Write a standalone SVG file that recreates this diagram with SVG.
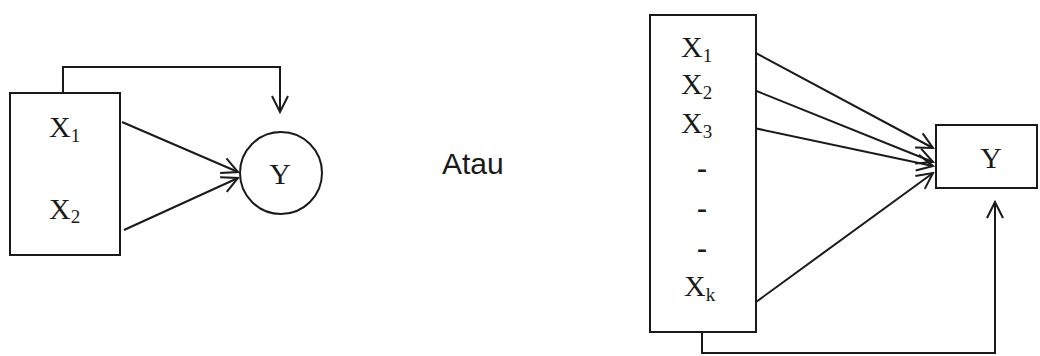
<svg xmlns="http://www.w3.org/2000/svg" width="1040" height="356" viewBox="0 0 1040 356">
  <style>
    .shape { fill: #fff; stroke: #1a1a1a; stroke-width: 2; }
    .wire { fill: none; stroke: #1a1a1a; stroke-width: 2; marker-end: url(#open); }
    .lbl { font-family: "Liberation Serif", "Times New Roman", serif; font-size: 30px; fill: #1a1a1a; }
    .sub { font-size: 19px; }
    .dash { font-family: "Liberation Serif", "Times New Roman", serif; font-size: 30px; font-weight: bold; fill: #1a1a1a; }
    .word { font-family: "Liberation Sans", Arial, sans-serif; font-size: 30px; fill: #1a1a1a; }
  </style>
  <defs>
    <marker id="open" viewBox="0 0 20 20" refX="18" refY="10" markerWidth="20" markerHeight="20" markerUnits="userSpaceOnUse" orient="auto">
      <path d="M2,2 L18,10 L2,18" fill="none" stroke="#1a1a1a" stroke-width="2"/>
    </marker>
  </defs>
  <rect width="1040" height="356" fill="#fff"/>

  <!-- connectors -->
  <g id="connectors">
    <path class="wire" d="M63,93 V67 H280 V112"/>
    <path class="wire" d="M122,122 L238,172"/>
    <path class="wire" d="M124,230 L238,178"/>
    <path class="wire" d="M754,52 L933,148"/>
    <path class="wire" d="M754,90 L933,162"/>
    <path class="wire" d="M754,128 L933,166"/>
    <path class="wire" d="M756,302 L933,173"/>
    <path class="wire" d="M702,332 V353 H995 V202"/>
  </g>

  <!-- left model -->
  <g id="x-left">
    <rect class="shape" x="10" y="93" width="110" height="162"/>
    <text class="lbl" x="49" y="137">X<tspan class="sub" dy="5">1</tspan></text>
    <text class="lbl" x="49" y="219">X<tspan class="sub" dy="4">2</tspan></text>
  </g>
  <g id="y-left">
    <circle class="shape" cx="281" cy="173" r="41"/>
    <text class="lbl" x="280" y="184" text-anchor="middle">Y</text>
  </g>

  <g id="atau">
    <text class="word" x="442" y="174">Atau</text>
  </g>

  <!-- right model -->
  <g id="x-right">
    <rect class="shape" x="650" y="15" width="106" height="317"/>
    <text class="lbl" x="681" y="57">X<tspan class="sub" dy="5">1</tspan></text>
    <text class="lbl" x="681" y="94">X<tspan class="sub" dy="5">2</tspan></text>
    <text class="lbl" x="681" y="133">X<tspan class="sub" dy="5">3</tspan></text>
    <text class="dash" x="702" y="178" text-anchor="middle">-</text>
    <text class="dash" x="702" y="218" text-anchor="middle">-</text>
    <text class="dash" x="702" y="258" text-anchor="middle">-</text>
    <text class="lbl" x="684" y="296">X<tspan class="sub" dy="5">k</tspan></text>
  </g>
  <g id="y-right">
    <rect class="shape" x="936" y="125" width="101" height="63"/>
    <text class="lbl" x="991" y="168" text-anchor="middle">Y</text>
  </g>
</svg>
